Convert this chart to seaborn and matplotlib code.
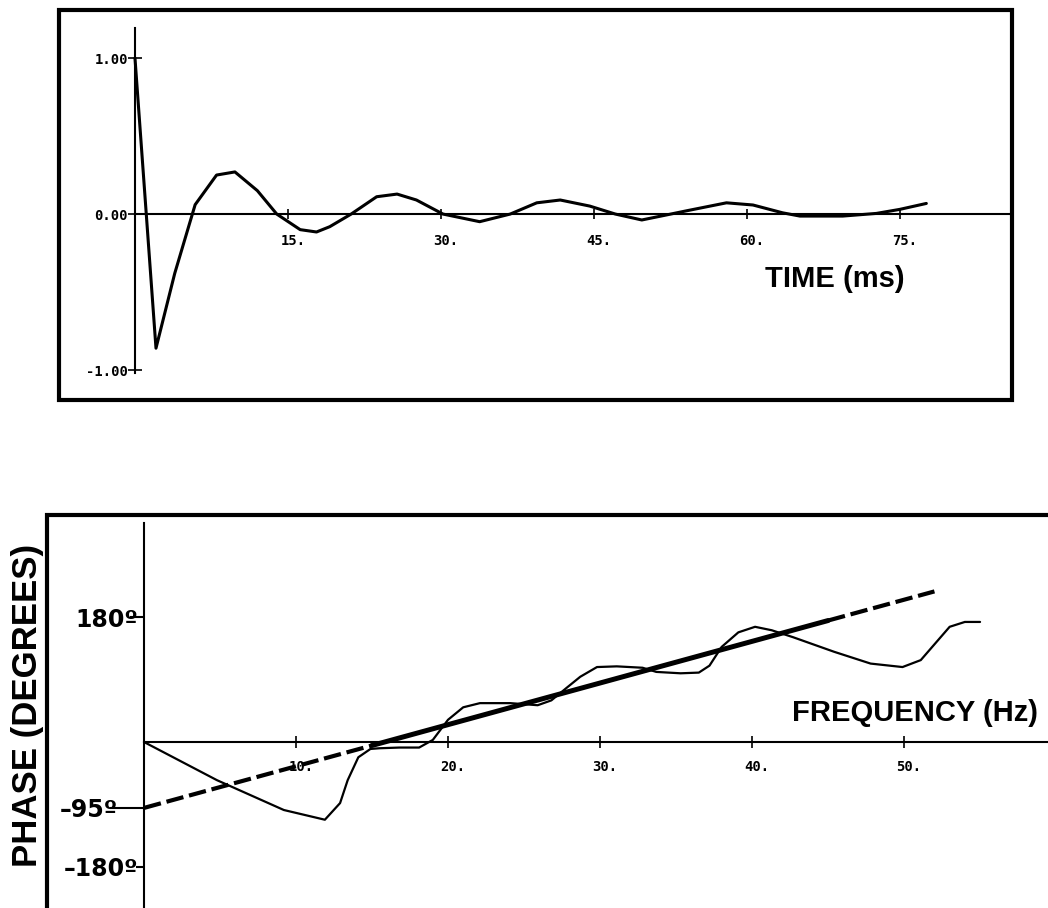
import matplotlib
matplotlib.use("Agg")
import matplotlib.pyplot as plt
import seaborn as sns
from matplotlib.patches import Rectangle
from matplotlib.transforms import ScaledTranslation

sns.set_style("white")
plt.rcParams['font.family'] = ['Liberation Sans', 'DejaVu Sans']
plt.rcParams['text.color'] = 'black'

# wavelet, amplitude vs time (ms)
time_ms = [0.0, 2.06, 3.9, 5.9, 8.0, 9.8, 12.0, 13.9, 16.2, 17.8, 19.1, 21.2,
           23.7, 25.7, 27.6, 30.2, 33.8, 36.8, 39.4, 41.7, 44.6, 47.1, 49.7,
           52.1, 54.1, 58.0, 60.6, 63.5, 65.2, 69.4, 72.7, 75.0, 77.6]
amplitude = [1.0, -0.86, -0.38, 0.06, 0.25, 0.27, 0.15, 0.0, -0.10, -0.115,
             -0.081, 0.0, 0.111, 0.128, 0.09, 0.0, -0.049, 0.0, 0.072, 0.09,
             0.051, 0.0, -0.038, -0.006, 0.021, 0.072, 0.058, 0.008, -0.013,
             -0.013, 0.004, 0.030, 0.068]
time_ticks = [15, 30, 45, 60, 75]
time_labels = ["15.", "30.", "45.", "60.", "75."]
amp_ticks = [1, 0, -1]
amp_labels = ["1.00", "0.00", "-1.00"]

# phase spectrum (degrees) vs frequency (Hz)
freq_hz = [0, 4.8, 9.2, 11.9, 12.9, 13.4, 14.1, 14.9, 15.5, 16.8, 18.1, 19.0,
           20.0, 21.0, 22.1, 24.1, 25.9, 26.8, 27.8, 28.7, 29.8, 31.1, 32.8,
           33.7, 35.3, 36.5, 37.2, 38.0, 39.1, 40.2, 41.3, 42.7, 45.4, 47.8,
           49.9, 51.1, 53.0, 54.0, 55.0]
phase_deg = [0, -55, -98, -112, -88, -55, -22, -10, -9, -8, -8, 3, 32, 50, 56,
             56, 53, 60, 78, 94, 108, 109, 107, 101, 99, 100, 110, 137, 158,
             166, 161, 151, 130, 113, 108, 118, 166, 173, 173]
# straight linear-phase fit: dashed / solid / dashed
fit_freq = [0, 15, 45, 52]
fit_phase = [-95, -5, 175, 217]
freq_ticks = [10, 20, 30, 40, 50]
freq_labels = ["10.", "20.", "30.", "40.", "50."]
phase_ticks = [180, -95, -180]
phase_labels = ["180º", "–95º", "–180º"]
phase_tick_len = [10, 24.5, 5.8]
phase_tick_pad = [4, 19, 4]

W, H = 1048, 908
fig = plt.figure(figsize=(W / 100, H / 100), dpi=100)
mono = "DejaVu Sans Mono"
shift = ScaledTranslation(5 / 100, 0, fig.dpi_scale_trans)

# ---- top panel
ax1 = fig.add_axes([59 / W, 1 - 400 / H, (1012 - 59) / W, (400 - 10) / H])
sns.lineplot(x=time_ms, y=amplitude, ax=ax1, color="black", linewidth=2.2)
ax1.set_xlim(-7.45, 86.0)
ax1.set_ylim(-1.192, 1.308)
ax1.spines[["top", "right"]].set_visible(False)
ax1.spines["left"].set_position(("data", 0))
ax1.spines["bottom"].set_position(("data", 0))
ax1.spines["left"].set_bounds(-1.02, 1.19)
ax1.spines["bottom"].set_bounds(0, 86.0)
for s in ["left", "bottom"]:
    ax1.spines[s].set_color("black")
    ax1.spines[s].set_linewidth(1.5)
ax1.set_xticks(time_ticks, time_labels)
ax1.set_yticks(amp_ticks, amp_labels)
ax1.tick_params(direction="inout", length=10, width=1.2, color="black",
                labelsize=10, labelcolor="black", left=True, bottom=True)
ax1.tick_params(axis="x", length=7, pad=11)
ax1.tick_params(axis="y", pad=0)
for lbl in ax1.get_xticklabels() + ax1.get_yticklabels():
    lbl.set_fontfamily(mono)
    lbl.set_fontweight("bold")
for lbl in ax1.get_xticklabels():
    lbl.set_transform(lbl.get_transform() + shift)
ax1.text(0.741, 0.310, "TIME (ms)", transform=ax1.transAxes, ha="left",
         va="center", fontsize=21, fontweight="bold")

# ---- bottom panel
ax2 = fig.add_axes([47 / W, 0, (W - 47) / W, (H - 515) / H])
sns.lineplot(x=freq_hz, y=phase_deg, ax=ax2, color="black", linewidth=1.6)
sns.lineplot(x=fit_freq[:2], y=fit_phase[:2], ax=ax2, color="black",
             linewidth=3.0, zorder=3)
ax2.lines[-1].set_dashes((4.2, 1.4))
sns.lineplot(x=fit_freq[1:3], y=fit_phase[1:3], ax=ax2, color="black",
             linewidth=3.6, zorder=3)
sns.lineplot(x=fit_freq[2:], y=fit_phase[2:], ax=ax2, color="black",
             linewidth=3.0, zorder=3)
ax2.lines[-1].set_dashes((4.2, 1.4))
ax2.set_xlim(-6.38, 59.47)
ax2.set_ylim(-239.2, 327.1)
ax2.spines[["top", "right"]].set_visible(False)
ax2.spines["left"].set_position(("data", 0))
ax2.spines["bottom"].set_position(("data", 0))
ax2.spines["left"].set_bounds(-239.2, 315.6)
ax2.spines["bottom"].set_bounds(0, 59.47)
for s in ["left", "bottom"]:
    ax2.spines[s].set_color("black")
    ax2.spines[s].set_linewidth(1.5)
ax2.set_xticks(freq_ticks, freq_labels)
ax2.tick_params(axis="x", direction="inout", length=8, width=1.2,
                color="black", labelsize=10, labelcolor="black", pad=9,
                bottom=True)
for lbl in ax2.get_xticklabels():
    lbl.set_fontfamily(mono)
    lbl.set_fontweight("bold")
    lbl.set_transform(lbl.get_transform() + shift)
ax2.set_yticks(phase_ticks, phase_labels, fontsize=17, fontweight="bold")
for lbl in ax2.get_yticklabels():
    lbl.set_fontfamily("DejaVu Sans")
ax2.tick_params(axis="y", direction="out", length=0, width=1.5,
                color="black", labelcolor="black", left=True)
for tick, ln, pd_ in zip(ax2.yaxis.get_major_ticks(), phase_tick_len,
                         phase_tick_pad):
    tick.set_pad(pd_)
    tick.tick1line.set_markersize(ln)
    tick.tick1line.set_markeredgewidth(1.5)
ax2.text(0.744, 0.496, "FREQUENCY (Hz)", transform=ax2.transAxes, ha="left",
         va="center", fontsize=21, fontweight="bold")

# frames
fig.add_artist(Rectangle((59 / W, 1 - 400 / H), (1012 - 59) / W, (400 - 10) / H,
                         transform=fig.transFigure, fill=False, lw=3,
                         ec="black"))
fig.add_artist(Rectangle((47 / W, -0.5), 1.0, (1 - 515 / H) + 0.5,
                         transform=fig.transFigure, fill=False, lw=3,
                         ec="black"))
fig.text(28 / W, 1 - 705 / H, "PHASE (DEGREES)", rotation=90, ha="center",
         va="center", fontsize=25, fontweight="bold")

fig.savefig("out.png", dpi=100)
